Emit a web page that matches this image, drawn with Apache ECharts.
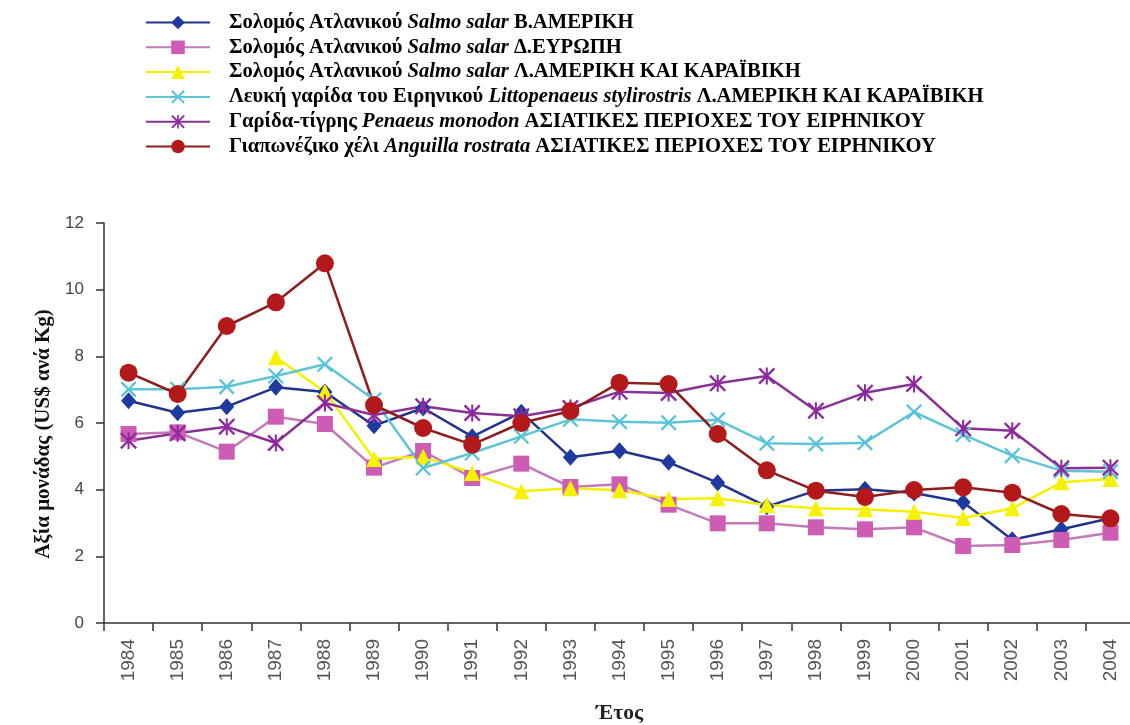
<!DOCTYPE html>
<html>
<head>
<meta charset="utf-8">
<script src="https://cdn.jsdelivr.net/npm/echarts@6/dist/echarts.min.js"></script>
<style>
  html, body { margin: 0; padding: 0; background: #fff; }
  #chart { width: 1130px; height: 725px; }
</style>
</head>
<body>
<div id="chart"></div>
<script>
// έτη
const years = ['1984','1985','1986','1987','1988','1989','1990','1991','1992','1993','1994',
               '1995','1996','1997','1998','1999','2000','2001','2002','2003','2004'];

// ονόματα σειρών (κοινό όνομα, λατινικό, περιοχή)
const commonNames = ['Σολομός Ατλανικού', 'Σολομός Ατλανικού', 'Σολομός Ατλανικού',
                     'Λευκή γαρίδα του Ειρηνικού', 'Γαρίδα-τίγρης', 'Γιαπωνέζικο χέλι'];
const latinNames = ['Salmo salar', 'Salmo salar', 'Salmo salar',
                    'Littopenaeus stylirostris', 'Penaeus monodon', 'Anguilla rostrata'];
const regions = ['Β.ΑΜΕΡΙΚΗ', 'Δ.ΕΥΡΩΠΗ', 'Λ.ΑΜΕΡΙΚΗ ΚΑΙ ΚΑΡΑΪΒΙΚΗ', 'Λ.ΑΜΕΡΙΚΗ ΚΑΙ ΚΑΡΑΪΒΙΚΗ',
                 'ΑΣΙΑΤΙΚΕΣ ΠΕΡΙΟΧΕΣ ΤΟΥ ΕΙΡΗΝΙΚΟΥ', 'ΑΣΙΑΤΙΚΕΣ ΠΕΡΙΟΧΕΣ ΤΟΥ ΕΙΡΗΝΙΚΟΥ'];

// τιμές (US$ ανά Kg)
const salmonNAmerica = [6.67, 6.31, 6.49, 7.07, 6.93, 5.92, 6.45, 5.59, 6.32, 4.97, 5.17,
                        4.82, 4.21, 3.49, 3.97, 4.01, 3.9, 3.62, 2.5, 2.81, 3.14];
const salmonEurope = [5.67, 5.72, 5.14, 6.19, 5.97, 4.66, 5.16, 4.35, 4.78, 4.08, 4.16,
                      3.55, 2.99, 2.99, 2.87, 2.81, 2.87, 2.31, 2.34, 2.49, 2.71];
const salmonSAmerica = [null, null, null, 7.97, 6.94, 4.92, 4.99, 4.5, 3.95, 4.04, 3.98,
                        3.72, 3.74, 3.54, 3.44, 3.41, 3.34, 3.15, 3.44, 4.22, 4.32];
const whiteShrimp = [7.01, 7.01, 7.09, 7.41, 7.76, 6.7, 4.65, 5.1, 5.6, 6.11, 6.04,
                     6.01, 6.1, 5.39, 5.37, 5.41, 6.33, 5.65, 5.02, 4.57, 4.54];
const tigerShrimp = [5.47, 5.69, 5.89, 5.4, 6.6, 6.24, 6.5, 6.3, 6.2, 6.45, 6.94,
                     6.9, 7.19, 7.41, 6.37, 6.91, 7.17, 5.84, 5.77, 4.64, 4.66];
const eel = [7.51, 6.87, 8.91, 9.62, 10.79, 6.54, 5.85, 5.35, 6.0, 6.36, 7.21,
             7.17, 5.67, 4.58, 3.97, 3.78, 3.99, 4.07, 3.91, 3.27, 3.14];

const yTicks = { min: 0, max: 12, interval: 2 };

const crossPath = 'path://M0,1 L1,0 L5,4 L9,0 L10,1 L6,5 L10,9 L9,10 L5,6 L1,10 L0,9 L4,5 Z';
const starPath = 'path://M0,1 L1,0 L5,4 L9,0 L10,1 L6,5 L10,9 L9,10 L5,6 L1,10 L0,9 L4,5 Z M4.4,0 L5.6,0 L5.6,10 L4.4,10 Z';

const seriesData = [salmonNAmerica, salmonEurope, salmonSAmerica, whiteShrimp, tigerShrimp, eel];
const styles = [
  { line: '#23338c', fill: '#1f3a9e', symbol: 'diamond', size: [15, 17] },
  { line: '#c27ab8', fill: '#cc5cb4', symbol: 'rect', size: 16 },
  { line: '#f4f000', fill: '#f7f200', symbol: 'triangle', size: 16 },
  { line: '#5ec4d6', fill: '#55c3d8', symbol: crossPath, size: 16 },
  { line: '#8a3294', fill: '#8e2aa0', symbol: starPath, size: 17 },
  { line: '#8e1d1d', fill: '#b3191b', symbol: 'circle', size: 18 }
];

const fullNames = commonNames.map((c, i) => c + ' ' + latinNames[i] + ' ' + regions[i]);

const chart = echarts.init(document.getElementById('chart'));

chart.setOption({
  backgroundColor: '#fff',
  animation: false,
  legend: {
    orient: 'vertical',
    left: 140,
    top: 7,
    itemWidth: 64,
    itemHeight: 17,
    itemGap: 3.8,
    data: fullNames,
    formatter: name => {
      const i = fullNames.indexOf(name);
      return '{b|' + commonNames[i] + ' }{i|' + latinNames[i] + '}{b| ' + regions[i] + '}';
    },
    textStyle: {
      padding: [0, 0, 0, 14],
      rich: {
        b: { fontFamily: 'Liberation Serif', fontWeight: 'bold', fontSize: 20.6, lineHeight: 20, color: '#000' },
        i: { fontFamily: 'Liberation Serif', fontWeight: 'bold', fontStyle: 'italic', fontSize: 20.6, lineHeight: 20, color: '#000' }
      }
    }
  },
  grid: { left: 104, top: 223, width: 1031, height: 400, outerBoundsMode: 'none' },
  xAxis: {
    type: 'category',
    data: years,
    boundaryGap: true,
    name: 'Έτος',
    nameLocation: 'middle',
    nameGap: 79,
    nameTextStyle: { fontFamily: 'Liberation Serif', fontWeight: 'bold', fontSize: 21.5, color: '#222' },
    axisLine: { lineStyle: { color: '#333', width: 1.5 } },
    axisTick: { show: true, length: 8, lineStyle: { color: '#333', width: 1.5 } },
    axisLabel: { rotate: 90, margin: 16, fontFamily: 'Liberation Sans', fontSize: 19, color: '#555' },
    splitLine: { show: false }
  },
  yAxis: {
    type: 'value',
    min: yTicks.min,
    max: yTicks.max,
    interval: yTicks.interval,
    name: 'Αξία μονάδας (US$ ανά Kg)',
    nameLocation: 'middle',
    nameGap: 50,
    nameTextStyle: { fontFamily: 'Liberation Serif', fontWeight: 'bold', fontSize: 21, color: '#111', padding: [0, 22, 0, 0] },
    axisLine: { show: true, lineStyle: { color: '#333', width: 1.5 } },
    axisTick: { show: true, length: 8, lineStyle: { color: '#333', width: 1.5 } },
    axisLabel: { margin: 20, fontFamily: 'Liberation Sans', fontSize: 17, color: '#444' },
    splitLine: { show: false }
  },
  series: seriesData.map((d, i) => ({
    name: fullNames[i],
    type: 'line',
    data: d,
    symbol: styles[i].symbol,
    symbolSize: styles[i].size,
    symbolKeepAspect: true,
    showAllSymbol: true,
    lineStyle: { color: styles[i].line, width: 2.5 },
    itemStyle: { color: styles[i].fill, borderColor: styles[i].fill, borderWidth: 0 },
    emphasis: { disabled: true }
  }))
});
</script>
</body>
</html>
